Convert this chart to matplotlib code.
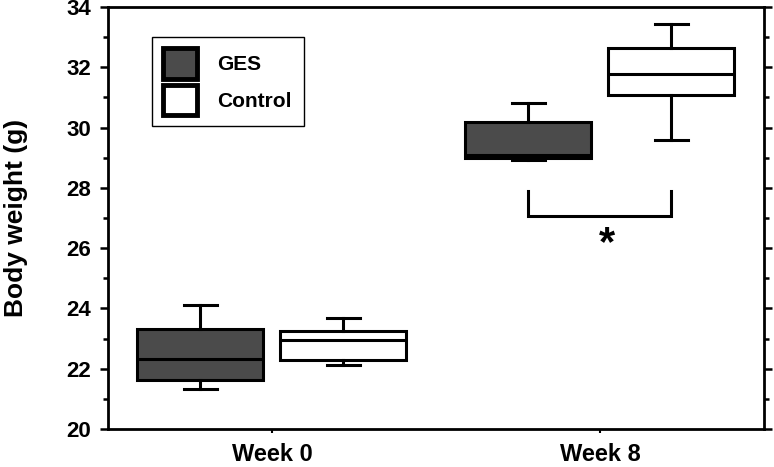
import matplotlib
matplotlib.use("Agg")
import matplotlib.pyplot as plt
from matplotlib.patches import Patch
from matplotlib.ticker import MultipleLocator

plt.rcParams['font.family'] = ['Liberation Sans', 'DejaVu Sans']
plt.rcParams['font.weight'] = 'bold'

# box statistics (g)
weeks = ["Week 0", "Week 8"]
groups = ["GES", "Control"]
ges_whislo = [21.33, 28.92]
ges_q1 = [21.62, 28.98]
ges_med = [22.32, 29.10]
ges_q3 = [23.32, 30.17]
ges_whishi = [24.11, 30.81]
ctl_whislo = [22.13, 29.58]
ctl_q1 = [22.29, 31.09]
ctl_med = [22.95, 31.78]
ctl_q3 = [23.24, 32.63]
ctl_whishi = [23.67, 33.45]
sig_level = 27.08   # bracket under week 8
sig_top = 27.88

ges_color = '#4b4b4b'
ctl_color = 'white'
offset = 0.218
width = 0.384

def stats(lo, q1, med, q3, hi):
    return [dict(whislo=lo[i], q1=q1[i], med=med[i], q3=q3[i], whishi=hi[i], fliers=[])
            for i in range(len(lo))]

fig = plt.figure(figsize=(7.74, 4.67), dpi=100)
ax = fig.add_axes([0.1395, 0.0814, 0.8475, 0.9036])

for st, shift, color in [(stats(ges_whislo, ges_q1, ges_med, ges_q3, ges_whishi), -offset, ges_color),
                         (stats(ctl_whislo, ctl_q1, ctl_med, ctl_q3, ctl_whishi), offset, ctl_color)]:
    pos = [i + shift for i in range(len(weeks))]
    ax.bxp(st, positions=pos, widths=width, patch_artist=True, showfliers=False,
           capwidths=0.1,
           boxprops=dict(facecolor=color, edgecolor='black', linewidth=2.2),
           medianprops=dict(color='black', linewidth=2.2),
           whiskerprops=dict(color='black', linewidth=2.2),
           capprops=dict(color='black', linewidth=2.2))

# significance bracket
x1, x2 = 1 - offset, 1 + offset
ax.plot([x1, x1, x2, x2], [sig_top, sig_level, sig_level, sig_top], color='black',
        linewidth=2.2, solid_joinstyle='miter')
ax.text(1.02, 26.15, '*', ha='center', va='center', fontsize=30, fontweight='bold')

ax.set_xlim(-0.5, 1.5)
ax.set_ylim(20, 34)
ax.set_xticks(range(len(weeks)))
ax.set_xticklabels(weeks, fontsize=17, fontweight='bold')
ax.yaxis.set_major_locator(MultipleLocator(2))
ax.yaxis.set_minor_locator(MultipleLocator(1))
ax.tick_params(axis='y', which='major', length=6, width=1.8, labelsize=16, pad=6,
               right=True, direction='out')
ax.tick_params(axis='y', which='minor', length=3.5, width=1.8, right=True, direction='out')
ax.tick_params(axis='x', which='major', length=3, width=1.5, pad=7)
for lab in ax.get_yticklabels():
    lab.set_fontweight('bold')
for s in ax.spines.values():
    s.set_linewidth(2)

ax.set_ylabel('Body weight (g)', fontsize=19, fontweight='bold')
ax.yaxis.set_label_coords(-0.122, 0.5)

handles = [Patch(facecolor=ges_color, edgecolor='black', linewidth=3.5),
           Patch(facecolor=ctl_color, edgecolor='black', linewidth=3.5)]
leg = ax.legend(handles, groups, loc='upper left', bbox_to_anchor=(0.067, 0.929),
                handlelength=1.6, handleheight=1.85, labelspacing=0.3,
                handletextpad=1.0, borderpad=0.55, fancybox=False, framealpha=1,
                borderaxespad=0, prop=dict(weight='bold', size=15))
leg.get_frame().set_edgecolor('black')
leg.get_frame().set_linewidth(1.0)

fig.savefig('out.png', dpi=100)
